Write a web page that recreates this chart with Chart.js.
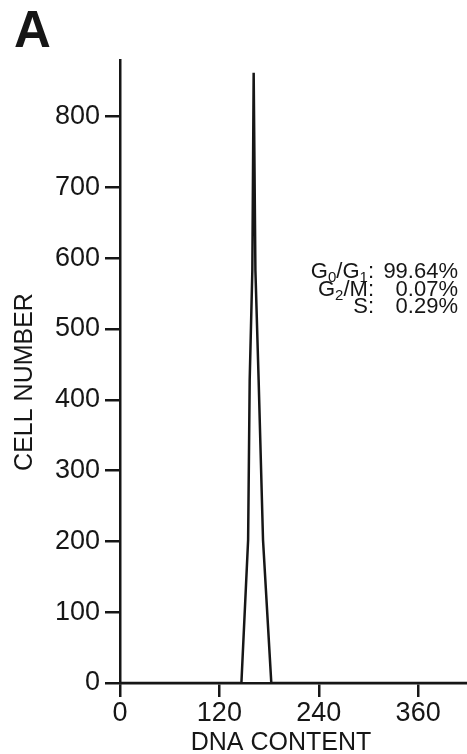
<!DOCTYPE html>
<html>
<head>
<meta charset="utf-8">
<title>DNA content histogram</title>
<script src="https://cdn.jsdelivr.net/npm/chart.js@4.4.1/dist/chart.umd.min.js"></script>
<style>
  html, body { margin: 0; padding: 0; background: #fff; overflow: hidden; }
  canvas { display: block; }
</style>
</head>
<body>
<canvas id="histPlot" width="467" height="754"></canvas>
<script>
// histogram (DNA content channel, cell count)
var dnaContent = [0, 146.6, 154.7, 156.6, 159.8, 161.4, 163.5, 167.4, 172.7, 182.7, 419];
var cellCount  = [0, 0, 202, 428, 583, 862, 583, 428, 202, 0, 0];

var xTicks = [0, 120, 240, 360];
var yTicks = [0, 100, 200, 300, 400, 500, 600, 700, 800];

var phaseNames = ['G0/G1', 'G2/M', 'S'];
var phasePercents = ['99.64%', '0.07%', '0.29%'];

const FONT = '"Liberation Sans", Arial, Helvetica, sans-serif';
const INK = '#161616';

var points = dnaContent.map(function (x, i) { return {x: x, y: cellCount[i]}; });

// draw "G0/G1" with the digits after G as subscripts, right aligned
function drawPhase(ctx, text, right, base) {
  var parts = [];
  for (var i = 0; i < text.length; i++) {
    var sub = /[0-9]/.test(text[i]) && text[i - 1] === 'G';
    parts.push({t: text[i], sub: sub});
  }
  var w = 0;
  parts.forEach(function (p) {
    ctx.font = p.sub ? '15px ' + FONT : '22px ' + FONT;
    p.w = ctx.measureText(p.t).width;
    w += p.w;
  });
  var x = right - w;
  parts.forEach(function (p) {
    ctx.font = p.sub ? '15px ' + FONT : '22px ' + FONT;
    ctx.fillText(p.t, x, p.sub ? base + 4 : base);
    x += p.w;
  });
}

var labelsPlugin = {
  id: 'labels',
  afterDraw: function (chart) {
    var ctx = chart.ctx;
    ctx.save();
    ctx.fillStyle = INK;
    ctx.textBaseline = 'alphabetic';
    ctx.textAlign = 'left';
    ctx.font = 'bold 51px ' + FONT;
    ctx.fillText('A', 14, 47);

    ctx.textAlign = 'center';
    ctx.textBaseline = 'middle';
    ctx.font = '25px ' + FONT;
    ctx.fillText('DNA CONTENT', 281, 743);

    ctx.save();
    ctx.translate(25, 382);
    ctx.rotate(-Math.PI / 2);
    ctx.fillText('CELL NUMBER', 0, 0);
    ctx.restore();

    ctx.textBaseline = 'alphabetic';
    for (var i = 0; i < phaseNames.length; i++) {
      var base = 278 + i * 17.5;
      ctx.textAlign = 'left';
      drawPhase(ctx, phaseNames[i] + ':', 374, base);
      ctx.textAlign = 'right';
      ctx.font = '22px ' + FONT;
      ctx.fillText(phasePercents[i], 458, base);
    }
    ctx.restore();
  }
};

function axisStyle() {
  return {
    border: {display: true, color: INK, width: 2.5},
    grid: {drawOnChartArea: false, drawTicks: true, color: INK, lineWidth: 2.5, tickLength: 14}
  };
}

var xAxis = axisStyle();
xAxis.type = 'linear';
xAxis.min = 0;
xAxis.max = 419;
xAxis.ticks = {color: INK, font: {family: FONT, size: 27}, padding: 0, maxRotation: 0};
xAxis.afterBuildTicks = function (scale) { scale.ticks = xTicks.map(function (v) { return {value: v}; }); };
xAxis.afterFit = function (scale) { scale.height = 71; };

var yAxis = axisStyle();
yAxis.min = 0;
yAxis.max = 880;
yAxis.grid.tickLength = 15;
yAxis.ticks = {color: INK, font: {family: FONT, size: 27}, padding: 5};
yAxis.afterBuildTicks = function (scale) { scale.ticks = yTicks.map(function (v) { return {value: v}; }); };
yAxis.afterFit = function (scale) { scale.width = 120; };

var ctx = document.getElementById('histPlot').getContext('2d');
var histPlot = new Chart(ctx, {
  type: 'line',
  data: {
    datasets: [{
      data: points,
      borderColor: INK,
      borderWidth: 2.5,
      pointRadius: 0,
      fill: false,
      tension: 0
    }]
  },
  options: {
    responsive: false,
    animation: false,
    layout: {padding: {top: 60, right: 0, left: 0, bottom: 0}},
    plugins: {legend: {display: false}, tooltip: {enabled: false}},
    scales: {x: xAxis, y: yAxis}
  },
  plugins: [labelsPlugin]
});
</script>
</body>
</html>
